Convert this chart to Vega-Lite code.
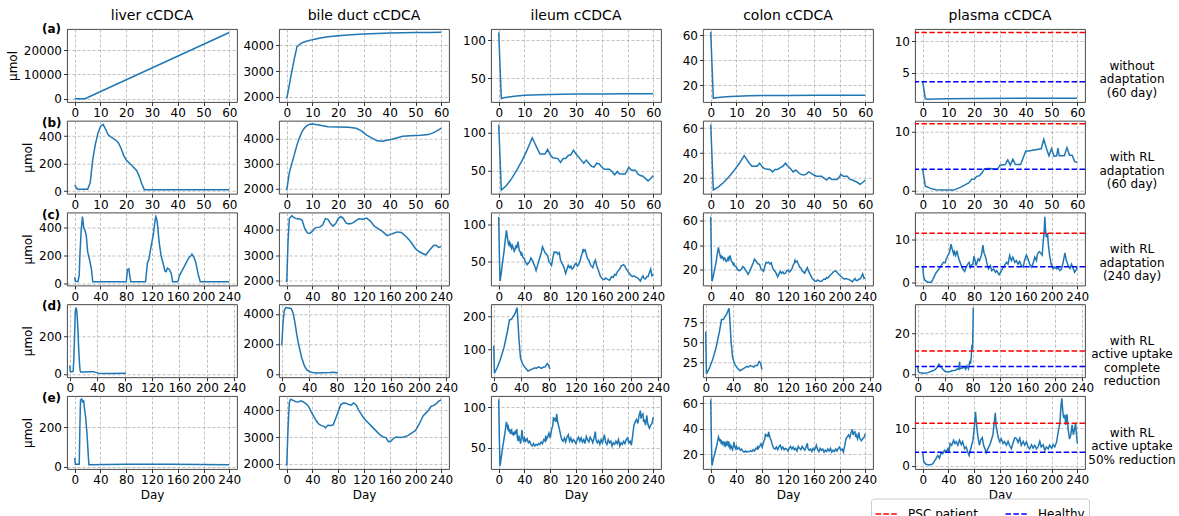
{
"$schema": "https://vega.github.io/schema/vega-lite/v6.json",
"background": "white",
"padding": {"left": 5, "top": 8, "right": 5, "bottom": 5},
"title": {"text":"(a)","anchor":"start","frame":"group","fontSize":12,"fontWeight":"bold","dx":-25,"dy":33,"offset":0,"baseline":"middle"},
"config": {
  "font": "DejaVu Sans",
  "numberFormat": "d",
  "view": {"stroke": "#333333", "strokeWidth": 0.9},
  "axis": {"labelFont": "DejaVu Sans", "labelFontSize": 12, "labelColor": "#000", "labelPadding": 2, "labelFlush": false, "labelOverlap": false, "tickColor": "#000", "tickSize": 3.5, "tickWidth": 0.8, "domain": false, "grid": true, "gridColor": "#b0b0b0", "gridWidth": 0.8, "gridDash": [3, 2], "titleFont": "DejaVu Sans", "titleFontSize": 12, "titleFontWeight": "normal", "titleColor": "#000", "titlePadding": 4},
  "title": {"font": "DejaVu Sans", "fontSize": 14, "fontWeight": "normal", "color": "#000", "offset": 6},
  "line": {"color": "#1f77b4", "strokeWidth": 1.5},
  "legend": {"title": null, "orient": "none", "legendX": 804, "legendY": 469.5, "direction": "horizontal", "symbolType": "stroke", "symbolSize": 484, "symbolStrokeWidth": 1.5, "symbolDash": [5.5, 2.4], "labelFontSize": 12, "labelFont": "DejaVu Sans", "labelColor": "#000", "labelOffset": 9.6, "columnPadding": 24, "padding": 3.5, "strokeColor": "#cccccc", "fillColor": "white", "cornerRadius": 3}
},
"datasets": {
  "ref": [{"kind": "PSC patient", "umol": 11.35}, {"kind": "Healthy", "umol": 3.6}],
  "a_liver": [{"day":0,"umol":50},{"day":1,"umol":15},{"day":4,"umol":15},{"day":5,"umol":470},{"day":60,"umol":27200}],
  "a_bile": [{"day":0,"umol":1923},{"day":1,"umol":2450},{"day":2,"umol":3000},{"day":3,"umol":3500},{"day":4,"umol":3950},{"day":5,"umol":4040},{"day":6,"umol":4100},{"day":8,"umol":4170},{"day":10,"umol":4220},{"day":13,"umol":4280},{"day":16,"umol":4330},{"day":20,"umol":4370},{"day":25,"umol":4410},{"day":30,"umol":4440},{"day":35,"umol":4460},{"day":40,"umol":4475},{"day":45,"umol":4488},{"day":50,"umol":4496},{"day":55,"umol":4501},{"day":60,"umol":4505}],
  "a_ileum": [{"day":0,"umol":110},{"day":1,"umol":23.5},{"day":2,"umol":24.5},{"day":4,"umol":25.6},{"day":6,"umol":26.5},{"day":8,"umol":27.2},{"day":10,"umol":27.7},{"day":13,"umol":28.2},{"day":16,"umol":28.6},{"day":20,"umol":28.9},{"day":25,"umol":29.2},{"day":30,"umol":29.4},{"day":40,"umol":29.6},{"day":50,"umol":29.7},{"day":60,"umol":29.7}],
  "a_colon": [{"day":0,"umol":62.5},{"day":1,"umol":9.6},{"day":2,"umol":10},{"day":4,"umol":10.5},{"day":6,"umol":10.9},{"day":8,"umol":11.1},{"day":10,"umol":11.3},{"day":15,"umol":11.6},{"day":20,"umol":11.8},{"day":30,"umol":11.9},{"day":40,"umol":12},{"day":60,"umol":12.1}],
  "a_plasma": [{"day":0,"umol":3.6},{"day":1,"umol":0.9},{"day":2,"umol":0.85},{"day":5,"umol":0.88},{"day":10,"umol":0.92},{"day":20,"umol":0.95},{"day":40,"umol":0.98},{"day":60,"umol":1.0}],
  "b_liver": [{"day":0,"umol":45},{"day":1,"umol":12},{"day":5,"umol":12},{"day":6,"umol":60},{"day":7,"umol":230},{"day":8,"umol":340},{"day":9,"umol":420},{"day":10,"umol":470},{"day":11,"umol":485},{"day":12,"umol":450},{"day":13,"umol":410},{"day":14,"umol":395},{"day":16,"umol":370},{"day":17,"umol":350},{"day":18,"umol":310},{"day":19,"umol":260},{"day":20,"umol":225},{"day":22,"umol":190},{"day":24,"umol":150},{"day":25,"umol":110},{"day":26,"umol":55},{"day":27,"umol":10},{"day":60,"umol":10}],
  "b_bile": [{"day":0,"umol":1920},{"day":1,"umol":2620},{"day":2,"umol":3000},{"day":3,"umol":3370},{"day":4,"umol":3750},{"day":5,"umol":4040},{"day":6,"umol":4280},{"day":7,"umol":4430},{"day":8,"umol":4520},{"day":9,"umol":4565},{"day":10,"umol":4570},{"day":12,"umol":4540},{"day":14,"umol":4500},{"day":16,"umol":4460},{"day":20,"umol":4450},{"day":24,"umol":4440},{"day":27,"umol":4400},{"day":29,"umol":4300},{"day":31,"umol":4130},{"day":33,"umol":4020},{"day":35,"umol":3900},{"day":37,"umol":3880},{"day":39,"umol":3920},{"day":41,"umol":3960},{"day":43,"umol":4020},{"day":45,"umol":4080},{"day":48,"umol":4100},{"day":52,"umol":4120},{"day":55,"umol":4150},{"day":57,"umol":4230},{"day":59,"umol":4340},{"day":60,"umol":4410}],
  "b_ileum": [{"day":0,"umol":110},{"day":1,"umol":25},{"day":3,"umol":31},{"day":5,"umol":40},{"day":7,"umol":51},{"day":9,"umol":63},{"day":11,"umol":77},{"day":13,"umol":93},{"day":14,"umol":86},{"day":15,"umol":79},{"day":16,"umol":72},{"day":18,"umol":72},{"day":19,"umol":78},{"day":20,"umol":71},{"day":21,"umol":67},{"day":23,"umol":66},{"day":24,"umol":61},{"day":25,"umol":66},{"day":26,"umol":66},{"day":27,"umol":70},{"day":28,"umol":71},{"day":29,"umol":77},{"day":30,"umol":72},{"day":31,"umol":68},{"day":32,"umol":64},{"day":33,"umol":60},{"day":34,"umol":64},{"day":35,"umol":60},{"day":36,"umol":56},{"day":37,"umol":55},{"day":38,"umol":60},{"day":39,"umol":59},{"day":40,"umol":55},{"day":41,"umol":52},{"day":43,"umol":52},{"day":44,"umol":49},{"day":45,"umol":45},{"day":46,"umol":49},{"day":47,"umol":46},{"day":49,"umol":46},{"day":50,"umol":51},{"day":50.5,"umol":55},{"day":51.5,"umol":51},{"day":53,"umol":51},{"day":54,"umol":46},{"day":55,"umol":44},{"day":56,"umol":43},{"day":57,"umol":40},{"day":58,"umol":37},{"day":59,"umol":40},{"day":60,"umol":44}],
  "b_colon": [{"day":0,"umol":63},{"day":1,"umol":10.5},{"day":3,"umol":13},{"day":5,"umol":16.5},{"day":7,"umol":21},{"day":9,"umol":26},{"day":11,"umol":31.5},{"day":13,"umol":38},{"day":14,"umol":35},{"day":15,"umol":32},{"day":16,"umol":29.5},{"day":18,"umol":29.5},{"day":19,"umol":32},{"day":20,"umol":29},{"day":21,"umol":27.5},{"day":23,"umol":27},{"day":24,"umol":25},{"day":25,"umol":27},{"day":26,"umol":27},{"day":27,"umol":28.5},{"day":28,"umol":29.5},{"day":29,"umol":32},{"day":30,"umol":29.5},{"day":31,"umol":27.5},{"day":32,"umol":25},{"day":33,"umol":26.5},{"day":34,"umol":24.5},{"day":35,"umol":23},{"day":36,"umol":22.5},{"day":37,"umol":23},{"day":38,"umol":25},{"day":39,"umol":24},{"day":40,"umol":22.5},{"day":41,"umol":21.5},{"day":43,"umol":21.5},{"day":44,"umol":20},{"day":45,"umol":18.5},{"day":46,"umol":20.5},{"day":47,"umol":19},{"day":49,"umol":19},{"day":50,"umol":21},{"day":50.5,"umol":23},{"day":51.5,"umol":21.5},{"day":53,"umol":21.5},{"day":54,"umol":19},{"day":55,"umol":18.5},{"day":56,"umol":17.5},{"day":57,"umol":16.5},{"day":58,"umol":15},{"day":59,"umol":16.5},{"day":60,"umol":18.5}],
  "b_plasma": [{"day":0,"umol":3.6},{"day":1,"umol":0.7},{"day":2,"umol":0.55},{"day":3,"umol":0.35},{"day":5,"umol":0.1},{"day":8,"umol":0.05},{"day":12,"umol":0.05},{"day":15,"umol":0.6},{"day":18,"umol":1.3},{"day":19,"umol":1.9},{"day":20,"umol":1.9},{"day":21,"umol":2.4},{"day":22,"umol":2.5},{"day":23,"umol":3.0},{"day":24,"umol":3.7},{"day":26,"umol":3.75},{"day":29,"umol":3.6},{"day":30,"umol":4.3},{"day":32,"umol":4.4},{"day":33,"umol":5.2},{"day":34,"umol":4.3},{"day":35,"umol":5.3},{"day":36,"umol":4.4},{"day":38,"umol":4.4},{"day":40,"umol":6.7},{"day":41,"umol":6.7},{"day":46,"umol":7.1},{"day":47,"umol":8.7},{"day":48,"umol":7.2},{"day":49,"umol":5.9},{"day":50,"umol":7.1},{"day":51,"umol":5.8},{"day":52,"umol":5.9},{"day":52.5,"umol":7.2},{"day":53,"umol":5.9},{"day":55,"umol":5.9},{"day":56,"umol":7.3},{"day":57,"umol":6.0},{"day":58,"umol":6.0},{"day":59,"umol":4.9},{"day":60,"umol":4.8}],
  "c_liver": [{"day":0,"umol":45},{"day":1,"umol":15},{"day":5,"umol":12},{"day":7,"umol":60},{"day":8,"umol":200},{"day":10,"umol":380},{"day":12,"umol":480},{"day":14,"umol":400},{"day":16,"umol":380},{"day":18,"umol":340},{"day":20,"umol":230},{"day":23,"umol":170},{"day":26,"umol":100},{"day":28,"umol":12},{"day":80,"umol":12},{"day":82,"umol":100},{"day":84,"umol":105},{"day":86,"umol":40},{"day":87,"umol":12},{"day":110,"umol":12},{"day":113,"umol":150},{"day":115,"umol":170},{"day":118,"umol":250},{"day":122,"umol":350},{"day":125,"umol":460},{"day":126,"umol":480},{"day":128,"umol":450},{"day":131,"umol":300},{"day":134,"umol":200},{"day":137,"umol":150},{"day":140,"umol":90},{"day":142,"umol":85},{"day":144,"umol":110},{"day":147,"umol":100},{"day":150,"umol":70},{"day":152,"umol":12},{"day":160,"umol":12},{"day":163,"umol":60},{"day":170,"umol":120},{"day":175,"umol":165},{"day":178,"umol":190},{"day":180,"umol":195},{"day":182,"umol":210},{"day":185,"umol":190},{"day":188,"umol":150},{"day":192,"umol":60},{"day":195,"umol":12},{"day":240,"umol":12}],
  "c_bile": [{"day":0,"umol":1920},{"day":2,"umol":3500},{"day":4,"umol":4450},{"day":8,"umol":4560},{"day":12,"umol":4480},{"day":16,"umol":4440},{"day":20,"umol":4440},{"day":24,"umol":4380},{"day":28,"umol":4050},{"day":32,"umol":3880},{"day":36,"umol":3860},{"day":40,"umol":3950},{"day":44,"umol":4080},{"day":48,"umol":4100},{"day":52,"umol":4120},{"day":56,"umol":4200},{"day":60,"umol":4450},{"day":64,"umol":4420},{"day":68,"umol":4250},{"day":72,"umol":4150},{"day":76,"umol":4250},{"day":80,"umol":4450},{"day":84,"umol":4530},{"day":88,"umol":4450},{"day":92,"umol":4280},{"day":96,"umol":4240},{"day":100,"umol":4250},{"day":104,"umol":4300},{"day":108,"umol":4380},{"day":112,"umol":4440},{"day":118,"umol":4420},{"day":124,"umol":4470},{"day":130,"umol":4350},{"day":136,"umol":4150},{"day":142,"umol":4050},{"day":148,"umol":3950},{"day":156,"umol":3770},{"day":164,"umol":3850},{"day":172,"umol":3920},{"day":178,"umol":3900},{"day":186,"umol":3720},{"day":192,"umol":3550},{"day":196,"umol":3400},{"day":200,"umol":3250},{"day":206,"umol":3130},{"day":212,"umol":3050},{"day":216,"umol":3000},{"day":222,"umol":3200},{"day":228,"umol":3380},{"day":232,"umol":3390},{"day":236,"umol":3300},{"day":240,"umol":3340}],
  "c_ileum": [{"day":0,"umol":110},{"day":1,"umol":60},{"day":2,"umol":24},{"day":4,"umol":35},{"day":6,"umol":50},{"day":8,"umol":62},{"day":10,"umol":78},{"day":12,"umol":92},{"day":13,"umol":85},{"day":14,"umol":80},{"day":15,"umol":74},{"day":16,"umol":72},{"day":17,"umol":76},{"day":18,"umol":74},{"day":19,"umol":70},{"day":20,"umol":68},{"day":21,"umol":72},{"day":22,"umol":70},{"day":24,"umol":64},{"day":25,"umol":66},{"day":27,"umol":72},{"day":28,"umol":68},{"day":30,"umol":77},{"day":31,"umol":70},{"day":32,"umol":65},{"day":34,"umol":62},{"day":35,"umol":58},{"day":36,"umol":61},{"day":38,"umol":55},{"day":40,"umol":54},{"day":41,"umol":50},{"day":43,"umol":48},{"day":44,"umol":46},{"day":46,"umol":48},{"day":48,"umol":50},{"day":50,"umol":55},{"day":52,"umol":52},{"day":54,"umol":48},{"day":56,"umol":44},{"day":58,"umol":38},{"day":60,"umol":44},{"day":62,"umol":50},{"day":64,"umol":56},{"day":66,"umol":62},{"day":68,"umol":70},{"day":70,"umol":66},{"day":72,"umol":62},{"day":74,"umol":60},{"day":76,"umol":58},{"day":78,"umol":50},{"day":80,"umol":48},{"day":82,"umol":45},{"day":84,"umol":55},{"day":86,"umol":63},{"day":88,"umol":62},{"day":90,"umol":63},{"day":92,"umol":60},{"day":94,"umol":62},{"day":96,"umol":52},{"day":98,"umol":48},{"day":100,"umol":45},{"day":102,"umol":40},{"day":104,"umol":34},{"day":106,"umol":40},{"day":108,"umol":45},{"day":110,"umol":42},{"day":112,"umol":44},{"day":114,"umol":40},{"day":116,"umol":42},{"day":118,"umol":46},{"day":120,"umol":48},{"day":122,"umol":44},{"day":124,"umol":46},{"day":126,"umol":50},{"day":128,"umol":57},{"day":130,"umol":62},{"day":131,"umol":67},{"day":132,"umol":64},{"day":134,"umol":66},{"day":136,"umol":60},{"day":137,"umol":57},{"day":138,"umol":54},{"day":140,"umol":52},{"day":142,"umol":47},{"day":143,"umol":45},{"day":145,"umol":43},{"day":146,"umol":42},{"day":148,"umol":48},{"day":150,"umol":52},{"day":152,"umol":45},{"day":154,"umol":40},{"day":156,"umol":35},{"day":158,"umol":30},{"day":160,"umol":28},{"day":162,"umol":26},{"day":164,"umol":26},{"day":166,"umol":28},{"day":168,"umol":27},{"day":170,"umol":26},{"day":172,"umol":25},{"day":174,"umol":28},{"day":176,"umol":30},{"day":178,"umol":29},{"day":180,"umol":33},{"day":182,"umol":32},{"day":184,"umol":36},{"day":186,"umol":38},{"day":188,"umol":40},{"day":190,"umol":44},{"day":192,"umol":45},{"day":194,"umol":46},{"day":196,"umol":44},{"day":198,"umol":40},{"day":200,"umol":38},{"day":202,"umol":35},{"day":204,"umol":33},{"day":206,"umol":31},{"day":208,"umol":30},{"day":210,"umol":31},{"day":212,"umol":30},{"day":214,"umol":29},{"day":216,"umol":28},{"day":218,"umol":26},{"day":220,"umol":24},{"day":222,"umol":28},{"day":224,"umol":31},{"day":226,"umol":27},{"day":228,"umol":27},{"day":230,"umol":30},{"day":232,"umol":30},{"day":234,"umol":35},{"day":236,"umol":40},{"day":238,"umol":31},{"day":240,"umol":33}],
  "c_colon": [{"day":0,"umol":63},{"day":1,"umol":30},{"day":2,"umol":10.5},{"day":4,"umol":14.5},{"day":6,"umol":20},{"day":8,"umol":25},{"day":10,"umol":32},{"day":12,"umol":38},{"day":13,"umol":35},{"day":14,"umol":33},{"day":15,"umol":30.5},{"day":16,"umol":29.5},{"day":17,"umol":31},{"day":18,"umol":30.5},{"day":19,"umol":29},{"day":20,"umol":28},{"day":21,"umol":29.5},{"day":22,"umol":29},{"day":24,"umol":26.5},{"day":25,"umol":27},{"day":27,"umol":29.5},{"day":28,"umol":28},{"day":30,"umol":31.5},{"day":31,"umol":29},{"day":32,"umol":27},{"day":34,"umol":25.5},{"day":35,"umol":24},{"day":36,"umol":25},{"day":38,"umol":22.5},{"day":40,"umol":22},{"day":41,"umol":20.5},{"day":43,"umol":19.5},{"day":44,"umol":19},{"day":46,"umol":19.5},{"day":48,"umol":20.5},{"day":50,"umol":22.5},{"day":52,"umol":21.5},{"day":54,"umol":19.5},{"day":56,"umol":18},{"day":58,"umol":16},{"day":60,"umol":18},{"day":62,"umol":20.5},{"day":64,"umol":23},{"day":66,"umol":25.5},{"day":68,"umol":28.5},{"day":70,"umol":27},{"day":72,"umol":25.5},{"day":74,"umol":24.5},{"day":76,"umol":24},{"day":78,"umol":20.5},{"day":80,"umol":19.5},{"day":82,"umol":18.5},{"day":84,"umol":22.5},{"day":86,"umol":26},{"day":88,"umol":25.5},{"day":90,"umol":26},{"day":92,"umol":24.5},{"day":94,"umol":25.5},{"day":96,"umol":21.5},{"day":98,"umol":19.5},{"day":100,"umol":18.5},{"day":102,"umol":16.5},{"day":104,"umol":14},{"day":106,"umol":16.5},{"day":108,"umol":18.5},{"day":110,"umol":17},{"day":112,"umol":18},{"day":114,"umol":16.5},{"day":116,"umol":17},{"day":118,"umol":19},{"day":120,"umol":19.5},{"day":122,"umol":18},{"day":124,"umol":19},{"day":126,"umol":20.5},{"day":128,"umol":23.5},{"day":130,"umol":25.5},{"day":131,"umol":27.5},{"day":132,"umol":26},{"day":134,"umol":27},{"day":136,"umol":24.5},{"day":137,"umol":23.5},{"day":138,"umol":22},{"day":140,"umol":21.5},{"day":142,"umol":19},{"day":143,"umol":18.5},{"day":145,"umol":17.5},{"day":146,"umol":17},{"day":148,"umol":19.5},{"day":150,"umol":21.5},{"day":152,"umol":18.5},{"day":154,"umol":16.5},{"day":156,"umol":14.5},{"day":158,"umol":12.5},{"day":160,"umol":11.5},{"day":162,"umol":10.5},{"day":164,"umol":10.5},{"day":166,"umol":11.5},{"day":168,"umol":11},{"day":170,"umol":10.5},{"day":172,"umol":10.3},{"day":174,"umol":11.5},{"day":176,"umol":12.3},{"day":178,"umol":12},{"day":180,"umol":13.5},{"day":182,"umol":13},{"day":184,"umol":14.5},{"day":186,"umol":15.5},{"day":188,"umol":16.5},{"day":190,"umol":18},{"day":192,"umol":18.5},{"day":194,"umol":19},{"day":196,"umol":18},{"day":198,"umol":16.5},{"day":200,"umol":15.5},{"day":202,"umol":14.5},{"day":204,"umol":13.5},{"day":206,"umol":12.7},{"day":208,"umol":12.3},{"day":210,"umol":12.7},{"day":212,"umol":12.3},{"day":214,"umol":12},{"day":216,"umol":11.5},{"day":218,"umol":10.7},{"day":220,"umol":10},{"day":222,"umol":11.5},{"day":224,"umol":12.7},{"day":226,"umol":11},{"day":228,"umol":11},{"day":230,"umol":12.3},{"day":232,"umol":12.3},{"day":234,"umol":14.3},{"day":236,"umol":16.5},{"day":238,"umol":12.7},{"day":240,"umol":13.5}],
  "c_plasma": [{"day":0,"umol":3.6},{"day":1.5,"umol":1.2},{"day":3.6,"umol":0.4},{"day":8,"umol":0},{"day":13,"umol":0},{"day":15.6,"umol":0.6},{"day":20.8,"umol":2.2},{"day":26,"umol":3.2},{"day":28.6,"umol":3.85},{"day":32,"umol":4.6},{"day":35,"umol":4.5},{"day":36,"umol":5.2},{"day":39,"umol":6.2},{"day":41.5,"umol":6.9},{"day":44,"umol":8.85},{"day":45.7,"umol":7.7},{"day":48,"umol":6.5},{"day":49,"umol":7.1},{"day":51,"umol":6.2},{"day":53,"umol":7.3},{"day":55,"umol":6.0},{"day":57,"umol":5.0},{"day":60,"umol":3.85},{"day":62,"umol":3.1},{"day":65,"umol":2.5},{"day":67.5,"umol":3.5},{"day":70,"umol":4.2},{"day":72,"umol":4.6},{"day":74,"umol":3.5},{"day":75,"umol":3.85},{"day":78,"umol":4.2},{"day":79.5,"umol":6.0},{"day":81.5,"umol":5.0},{"day":83,"umol":3.85},{"day":86,"umol":5.4},{"day":88,"umol":5.0},{"day":91,"umol":6.2},{"day":93.5,"umol":8.6},{"day":95,"umol":6.9},{"day":97.7,"umol":5.8},{"day":100,"umol":4.2},{"day":102,"umol":3.1},{"day":105,"umol":3.85},{"day":107,"umol":2.7},{"day":110,"umol":3.1},{"day":113,"umol":2.3},{"day":115,"umol":2.7},{"day":118.5,"umol":1.7},{"day":121,"umol":2.3},{"day":123.6,"umol":3.1},{"day":127,"umol":3.85},{"day":130,"umol":4.6},{"day":132.5,"umol":4.2},{"day":135,"umol":6.2},{"day":137.7,"umol":5.0},{"day":140,"umol":5.8},{"day":143,"umol":4.6},{"day":145.5,"umol":5.0},{"day":148,"umol":4.2},{"day":150.6,"umol":4.8},{"day":153,"umol":3.85},{"day":156,"umol":3.5},{"day":158,"umol":5.0},{"day":161,"umol":6.3},{"day":163.6,"umol":5.4},{"day":166,"umol":4.2},{"day":169,"umol":3.5},{"day":171,"umol":4.2},{"day":174,"umol":5.8},{"day":176.6,"umol":5.0},{"day":178,"umol":6.5},{"day":181,"umol":7.1},{"day":183,"umol":6.8},{"day":185.5,"umol":6.3},{"day":187,"umol":9.2},{"day":188.6,"umol":11.5},{"day":189.6,"umol":15.2},{"day":190.6,"umol":12.3},{"day":192,"umol":10.4},{"day":193.8,"umol":11.4},{"day":195,"umol":8.9},{"day":197,"umol":6.2},{"day":199.5,"umol":4.2},{"day":202.6,"umol":3.1},{"day":205,"umol":3.5},{"day":208,"umol":3.1},{"day":210,"umol":3.5},{"day":213,"umol":2.7},{"day":215.6,"umol":3.1},{"day":218,"umol":4.6},{"day":220.8,"umol":6.8},{"day":223,"umol":5.0},{"day":226,"umol":3.85},{"day":228.6,"umol":3.2},{"day":231,"umol":4.2},{"day":233.8,"umol":3.1},{"day":236,"umol":2.3},{"day":239,"umol":3.1},{"day":240,"umol":3.5}],
  "d_liver": [{"day":0,"umol":45},{"day":1,"umol":12},{"day":4,"umol":12},{"day":5,"umol":15},{"day":6,"umol":80},{"day":7,"umol":200},{"day":8,"umol":330},{"day":9,"umol":355},{"day":10,"umol":345},{"day":11,"umol":300},{"day":12,"umol":230},{"day":13,"umol":140},{"day":14,"umol":70},{"day":15,"umol":20},{"day":16,"umol":10},{"day":20,"umol":10},{"day":30,"umol":12},{"day":35,"umol":12},{"day":38,"umol":8},{"day":42,"umol":4},{"day":50,"umol":2},{"day":60,"umol":2},{"day":82,"umol":3}],
  "d_bile": [{"day":0,"umol":1920},{"day":2,"umol":3500},{"day":4,"umol":4300},{"day":6,"umol":4430},{"day":10,"umol":4400},{"day":14,"umol":4350},{"day":17,"umol":4000},{"day":20,"umol":3200},{"day":22,"umol":2600},{"day":24,"umol":2100},{"day":26,"umol":1700},{"day":29,"umol":1100},{"day":33,"umol":550},{"day":36,"umol":300},{"day":40,"umol":160},{"day":45,"umol":90},{"day":50,"umol":70},{"day":60,"umol":80},{"day":70,"umol":90},{"day":75,"umol":110},{"day":78,"umol":90},{"day":82,"umol":60}],
  "d_ileum": [{"day":0,"umol":110},{"day":1,"umol":25},{"day":5,"umol":42},{"day":10,"umol":70},{"day":15,"umol":105},{"day":20,"umol":155},{"day":23,"umol":190},{"day":26,"umol":192},{"day":28,"umol":200},{"day":30,"umol":205},{"day":32,"umol":215},{"day":34,"umol":228},{"day":35,"umol":195},{"day":37,"umol":125},{"day":39,"umol":72},{"day":42,"umol":55},{"day":46,"umol":42},{"day":50,"umol":32},{"day":55,"umol":37},{"day":60,"umol":42},{"day":62,"umol":40},{"day":65,"umol":45},{"day":68,"umol":42},{"day":70,"umol":40},{"day":72,"umol":44},{"day":75,"umol":45},{"day":78,"umol":55},{"day":80,"umol":50},{"day":82,"umol":38}],
  "d_colon": [{"day":0,"umol":63},{"day":1,"umol":10.5},{"day":5,"umol":17},{"day":10,"umol":28},{"day":15,"umol":43},{"day":20,"umol":63},{"day":23,"umol":78},{"day":26,"umol":78},{"day":28,"umol":82},{"day":30,"umol":84},{"day":32,"umol":88},{"day":34,"umol":92},{"day":35,"umol":80},{"day":37,"umol":51},{"day":39,"umol":32},{"day":42,"umol":23},{"day":46,"umol":18},{"day":50,"umol":14.5},{"day":55,"umol":17},{"day":60,"umol":20},{"day":62,"umol":19},{"day":65,"umol":21},{"day":68,"umol":20},{"day":70,"umol":19},{"day":72,"umol":21},{"day":75,"umol":21},{"day":78,"umol":26},{"day":80,"umol":24},{"day":82,"umol":16}],
  "d_plasma": [{"day":0,"umol":3.6},{"day":1,"umol":1.0},{"day":3,"umol":0.5},{"day":10,"umol":0.3},{"day":15,"umol":0.6},{"day":20,"umol":1.3},{"day":25,"umol":2.0},{"day":28,"umol":3.0},{"day":31,"umol":4.8},{"day":33,"umol":3.8},{"day":36,"umol":2.5},{"day":40,"umol":1.2},{"day":45,"umol":0.9},{"day":50,"umol":1.5},{"day":55,"umol":1.8},{"day":58,"umol":2.5},{"day":60,"umol":2.2},{"day":61,"umol":6.0},{"day":62,"umol":2.5},{"day":66,"umol":3.0},{"day":68,"umol":3.5},{"day":70,"umol":2.3},{"day":72,"umol":4.0},{"day":74,"umol":2.5},{"day":76,"umol":6.5},{"day":77,"umol":5.0},{"day":78,"umol":8.0},{"day":79,"umol":14.5},{"day":80,"umol":12.0},{"day":81,"umol":33.0}],
  "e_liver": [{"day":0,"umol":45},{"day":1,"umol":12},{"day":7,"umol":12},{"day":8,"umol":200},{"day":9,"umol":340},{"day":11,"umol":345},{"day":12,"umol":330},{"day":14,"umol":335},{"day":15,"umol":300},{"day":17,"umol":250},{"day":19,"umol":170},{"day":21,"umol":60},{"day":22,"umol":10},{"day":80,"umol":12},{"day":150,"umol":12},{"day":240,"umol":10}],
  "e_bile": [{"day":0,"umol":1920},{"day":2,"umol":3300},{"day":4,"umol":4300},{"day":6,"umol":4420},{"day":10,"umol":4380},{"day":14,"umol":4330},{"day":18,"umol":4320},{"day":22,"umol":4360},{"day":26,"umol":4320},{"day":30,"umol":4250},{"day":34,"umol":4150},{"day":38,"umol":3950},{"day":42,"umol":3780},{"day":46,"umol":3600},{"day":50,"umol":3480},{"day":54,"umol":3430},{"day":58,"umol":3400},{"day":60,"umol":3340},{"day":64,"umol":3440},{"day":68,"umol":3430},{"day":72,"umol":3450},{"day":76,"umol":3700},{"day":80,"umol":3960},{"day":84,"umol":4220},{"day":88,"umol":4280},{"day":92,"umol":4270},{"day":96,"umol":4230},{"day":100,"umol":4200},{"day":104,"umol":4280},{"day":108,"umol":4200},{"day":112,"umol":4000},{"day":116,"umol":3850},{"day":120,"umol":3700},{"day":126,"umol":3550},{"day":132,"umol":3400},{"day":138,"umol":3250},{"day":144,"umol":3100},{"day":150,"umol":3000},{"day":154,"umol":2980},{"day":158,"umol":2820},{"day":162,"umol":2850},{"day":166,"umol":2950},{"day":170,"umol":3000},{"day":176,"umol":2980},{"day":182,"umol":3000},{"day":188,"umol":3050},{"day":194,"umol":3150},{"day":200,"umol":3250},{"day":206,"umol":3500},{"day":212,"umol":3800},{"day":216,"umol":3900},{"day":220,"umol":4000},{"day":224,"umol":4150},{"day":228,"umol":4180},{"day":232,"umol":4250},{"day":236,"umol":4350},{"day":240,"umol":4400}],
  "e_ileum": [{"day":0,"umol":110},{"day":1,"umol":60},{"day":2,"umol":27},{"day":4,"umol":38},{"day":6,"umol":50},{"day":8,"umol":60},{"day":10,"umol":70},{"day":11,"umol":76},{"day":12,"umol":82},{"day":13,"umol":78},{"day":14,"umol":74},{"day":15,"umol":76},{"day":16,"umol":70},{"day":17,"umol":73},{"day":18,"umol":67},{"day":19,"umol":71},{"day":20,"umol":72},{"day":21,"umol":66},{"day":22,"umol":69},{"day":23,"umol":65},{"day":24,"umol":70},{"day":25,"umol":66},{"day":26,"umol":71},{"day":27,"umol":67},{"day":28,"umol":73},{"day":29,"umol":62},{"day":30,"umol":58},{"day":31,"umol":65},{"day":32,"umol":62},{"day":33,"umol":58},{"day":34,"umol":55},{"day":35,"umol":62},{"day":36,"umol":72},{"day":37,"umol":64},{"day":38,"umol":60},{"day":39,"umol":57},{"day":40,"umol":62},{"day":42,"umol":58},{"day":44,"umol":61},{"day":46,"umol":56},{"day":48,"umol":58},{"day":50,"umol":54},{"day":52,"umol":52},{"day":54,"umol":55},{"day":56,"umol":52},{"day":58,"umol":54},{"day":60,"umol":53},{"day":62,"umol":55},{"day":64,"umol":54},{"day":66,"umol":57},{"day":68,"umol":55},{"day":70,"umol":60},{"day":72,"umol":58},{"day":73,"umol":65},{"day":74,"umol":60},{"day":76,"umol":63},{"day":78,"umol":68},{"day":80,"umol":62},{"day":82,"umol":72},{"day":84,"umol":78},{"day":85,"umol":88},{"day":86,"umol":84},{"day":88,"umol":86},{"day":89,"umol":82},{"day":90,"umol":92},{"day":91,"umol":85},{"day":92,"umol":80},{"day":94,"umol":74},{"day":95,"umol":70},{"day":96,"umol":66},{"day":98,"umol":60},{"day":100,"umol":58},{"day":102,"umol":62},{"day":104,"umol":57},{"day":106,"umol":63},{"day":108,"umol":66},{"day":110,"umol":58},{"day":112,"umol":62},{"day":114,"umol":57},{"day":116,"umol":60},{"day":118,"umol":58},{"day":120,"umol":55},{"day":122,"umol":60},{"day":124,"umol":63},{"day":126,"umol":58},{"day":128,"umol":62},{"day":130,"umol":57},{"day":132,"umol":60},{"day":134,"umol":55},{"day":136,"umol":64},{"day":138,"umol":60},{"day":140,"umol":57},{"day":142,"umol":63},{"day":144,"umol":60},{"day":146,"umol":56},{"day":148,"umol":62},{"day":150,"umol":70},{"day":151,"umol":60},{"day":153,"umol":56},{"day":155,"umol":59},{"day":157,"umol":54},{"day":159,"umol":60},{"day":161,"umol":56},{"day":163,"umol":62},{"day":164,"umol":66},{"day":166,"umol":57},{"day":168,"umol":54},{"day":170,"umol":60},{"day":172,"umol":56},{"day":174,"umol":58},{"day":176,"umol":52},{"day":178,"umol":56},{"day":180,"umol":54},{"day":182,"umol":58},{"day":184,"umol":55},{"day":186,"umol":60},{"day":188,"umol":52},{"day":190,"umol":56},{"day":192,"umol":54},{"day":194,"umol":58},{"day":196,"umol":55},{"day":198,"umol":60},{"day":200,"umol":62},{"day":202,"umol":56},{"day":204,"umol":58},{"day":206,"umol":53},{"day":208,"umol":65},{"day":210,"umol":78},{"day":212,"umol":82},{"day":214,"umol":85},{"day":216,"umol":80},{"day":218,"umol":90},{"day":220,"umol":96},{"day":221,"umol":86},{"day":222,"umol":90},{"day":224,"umol":92},{"day":225,"umol":82},{"day":226,"umol":85},{"day":228,"umol":78},{"day":230,"umol":90},{"day":231,"umol":82},{"day":232,"umol":78},{"day":234,"umol":74},{"day":236,"umol":78},{"day":238,"umol":80},{"day":240,"umol":88}],
  "e_colon": [{"day":0,"umol":63},{"day":1,"umol":30},{"day":2,"umol":11},{"day":4,"umol":16},{"day":6,"umol":20},{"day":8,"umol":24},{"day":10,"umol":28},{"day":11,"umol":31},{"day":12,"umol":33.5},{"day":13,"umol":32},{"day":14,"umol":30.5},{"day":15,"umol":31},{"day":16,"umol":29},{"day":17,"umol":30},{"day":18,"umol":28},{"day":19,"umol":29.5},{"day":20,"umol":29.5},{"day":21,"umol":27},{"day":22,"umol":28.5},{"day":23,"umol":27},{"day":24,"umol":29},{"day":25,"umol":27.5},{"day":26,"umol":29},{"day":27,"umol":27.5},{"day":28,"umol":30},{"day":29,"umol":25.5},{"day":30,"umol":24.5},{"day":31,"umol":27},{"day":32,"umol":26},{"day":33,"umol":24.5},{"day":34,"umol":23.5},{"day":35,"umol":26},{"day":36,"umol":29.5},{"day":37,"umol":26.5},{"day":38,"umol":25},{"day":39,"umol":24},{"day":40,"umol":26},{"day":42,"umol":24},{"day":44,"umol":25},{"day":46,"umol":23},{"day":48,"umol":24},{"day":50,"umol":22},{"day":52,"umol":21.5},{"day":54,"umol":22.5},{"day":56,"umol":21.5},{"day":58,"umol":22},{"day":60,"umol":22},{"day":62,"umol":22.5},{"day":64,"umol":22},{"day":66,"umol":23.5},{"day":68,"umol":22.5},{"day":70,"umol":24.5},{"day":72,"umol":24},{"day":73,"umol":26.5},{"day":74,"umol":24.5},{"day":76,"umol":26},{"day":78,"umol":28},{"day":80,"umol":25.5},{"day":82,"umol":29.5},{"day":84,"umol":32},{"day":85,"umol":36},{"day":86,"umol":34.5},{"day":88,"umol":35},{"day":89,"umol":33.5},{"day":90,"umol":37.5},{"day":91,"umol":35},{"day":92,"umol":33},{"day":94,"umol":30.5},{"day":95,"umol":28.5},{"day":96,"umol":27},{"day":98,"umol":24.5},{"day":100,"umol":24},{"day":102,"umol":25.5},{"day":104,"umol":23.5},{"day":106,"umol":26},{"day":108,"umol":27},{"day":110,"umol":24},{"day":112,"umol":25.5},{"day":114,"umol":23.5},{"day":116,"umol":24.5},{"day":118,"umol":24},{"day":120,"umol":22.5},{"day":122,"umol":24.5},{"day":124,"umol":26},{"day":126,"umol":24},{"day":128,"umol":25.5},{"day":130,"umol":23.5},{"day":132,"umol":24.5},{"day":134,"umol":22.5},{"day":136,"umol":26},{"day":138,"umol":24.5},{"day":140,"umol":23.5},{"day":142,"umol":26},{"day":144,"umol":24.5},{"day":146,"umol":23},{"day":148,"umol":25.5},{"day":150,"umol":28.5},{"day":151,"umol":24.5},{"day":153,"umol":23},{"day":155,"umol":24},{"day":157,"umol":22},{"day":159,"umol":24.5},{"day":161,"umol":23},{"day":163,"umol":25.5},{"day":164,"umol":27},{"day":166,"umol":23.5},{"day":168,"umol":22},{"day":170,"umol":24.5},{"day":172,"umol":23},{"day":174,"umol":24},{"day":176,"umol":21.5},{"day":178,"umol":23},{"day":180,"umol":22},{"day":182,"umol":24},{"day":184,"umol":22.5},{"day":186,"umol":24.5},{"day":188,"umol":21.5},{"day":190,"umol":23},{"day":192,"umol":22},{"day":194,"umol":24},{"day":196,"umol":22.5},{"day":198,"umol":24.5},{"day":200,"umol":25.5},{"day":202,"umol":23},{"day":204,"umol":24},{"day":206,"umol":21.5},{"day":208,"umol":26.5},{"day":210,"umol":32},{"day":212,"umol":33.5},{"day":214,"umol":35},{"day":216,"umol":33},{"day":218,"umol":37},{"day":220,"umol":39.5},{"day":221,"umol":35},{"day":222,"umol":37},{"day":224,"umol":37.5},{"day":225,"umol":33.5},{"day":226,"umol":35},{"day":228,"umol":32},{"day":230,"umol":37},{"day":231,"umol":33.5},{"day":232,"umol":32},{"day":234,"umol":30.5},{"day":236,"umol":32},{"day":238,"umol":33},{"day":240,"umol":36}],
  "e_plasma": [{"day":0,"umol":3.6},{"day":1.5,"umol":1.1},{"day":5,"umol":0.36},{"day":10,"umol":0.2},{"day":15.6,"umol":0.45},{"day":19.7,"umol":1.6},{"day":23.4,"umol":2.7},{"day":26,"umol":2.0},{"day":28.6,"umol":3.45},{"day":31,"umol":3.2},{"day":34,"umol":4.1},{"day":36,"umol":3.6},{"day":39,"umol":4.5},{"day":40.5,"umol":3.45},{"day":42.6,"umol":5.9},{"day":45,"umol":5.45},{"day":48,"umol":6.8},{"day":50,"umol":5.9},{"day":52,"umol":6.4},{"day":54.5,"umol":5.45},{"day":57,"umol":6.8},{"day":60,"umol":5.6},{"day":62,"umol":6.4},{"day":65,"umol":4.5},{"day":67.5,"umol":5.0},{"day":70,"umol":3.6},{"day":72,"umol":2.7},{"day":74,"umol":4.1},{"day":76,"umol":5.45},{"day":78,"umol":6.8},{"day":80,"umol":10.0},{"day":82,"umol":14.4},{"day":83.6,"umol":10.9},{"day":85.7,"umol":7.7},{"day":88,"umol":5.45},{"day":90,"umol":6.8},{"day":92.5,"umol":7.45},{"day":94.5,"umol":5.45},{"day":96.6,"umol":4.5},{"day":98.7,"umol":3.45},{"day":101,"umol":4.5},{"day":104,"umol":5.45},{"day":106.5,"umol":6.8},{"day":109,"umol":8.2},{"day":111,"umol":11.4},{"day":112.7,"umol":14.1},{"day":114,"umol":10.5},{"day":117,"umol":7.7},{"day":119.5,"umol":6.4},{"day":122,"umol":7.1},{"day":124.7,"umol":5.9},{"day":127,"umol":6.4},{"day":130,"umol":5.45},{"day":132.5,"umol":6.5},{"day":135,"umol":5.3},{"day":137.7,"umol":4.5},{"day":140,"umol":5.9},{"day":143,"umol":7.45},{"day":145.5,"umol":7.3},{"day":148,"umol":6.2},{"day":150.6,"umol":7.3},{"day":153,"umol":5.45},{"day":156,"umol":6.5},{"day":158.4,"umol":5.45},{"day":161,"umol":6.4},{"day":163.6,"umol":5.0},{"day":166,"umol":4.5},{"day":169,"umol":5.6},{"day":171.4,"umol":4.7},{"day":174,"umol":5.45},{"day":176.6,"umol":4.5},{"day":179,"umol":5.0},{"day":181.8,"umol":6.5},{"day":184,"umol":5.0},{"day":187,"umol":5.6},{"day":189.6,"umol":4.1},{"day":192,"umol":5.0},{"day":195,"umol":4.5},{"day":197,"umol":5.45},{"day":200,"umol":4.7},{"day":202.6,"umol":5.6},{"day":205,"umol":5.0},{"day":208,"umol":6.4},{"day":210,"umol":8.6},{"day":213,"umol":11.4},{"day":214.5,"umol":15.5},{"day":216,"umol":18.0},{"day":217.7,"umol":14.1},{"day":219,"umol":12.7},{"day":220.8,"umol":13.6},{"day":222,"umol":10.9},{"day":224,"umol":13.8},{"day":226,"umol":9.5},{"day":228,"umol":7.1},{"day":230,"umol":8.2},{"day":232,"umol":10.9},{"day":234,"umol":8.2},{"day":236,"umol":10.0},{"day":237.4,"umol":11.4},{"day":239,"umol":7.7},{"day":240,"umol":5.9}]
},
"columns": 6,
"spacing": {"row": 18.75, "column": 42},
"bounds": "flush",
"align": "each",
"concat": [
   {"width":170,"height":73,"title":"liver cCDCA","data":{"name":"a_liver"},"mark":"line","encoding":{"x":{"field":"day","type":"quantitative","scale":{"domain":[-3,63],"nice":false,"zero":false},"axis":{"values":[0,10,20,30,40,50,60],"title":null}},"y":{"field":"umol","type":"quantitative","scale":{"domain":[-1360,28630],"nice":false,"zero":false},"axis":{"values":[0,10000,20000],"title":"µmol"}}}},
   {"width":170,"height":73,"title":"bile duct cCDCA","data":{"name":"a_bile"},"mark":"line","encoding":{"x":{"field":"day","type":"quantitative","scale":{"domain":[-3,63],"nice":false,"zero":false},"axis":{"values":[0,10,20,30,40,50,60],"title":null}},"y":{"field":"umol","type":"quantitative","scale":{"domain":[1794,4634],"nice":false,"zero":false},"axis":{"values":[2000,3000,4000],"title":null}}}},
   {"width":170,"height":73,"title":"ileum cCDCA","data":{"name":"a_ileum"},"mark":"line","encoding":{"x":{"field":"day","type":"quantitative","scale":{"domain":[-3,63],"nice":false,"zero":false},"axis":{"values":[0,10,20,30,40,50,60],"title":null}},"y":{"field":"umol","type":"quantitative","scale":{"domain":[19,114.4],"nice":false,"zero":false},"axis":{"values":[50,100],"title":null}}}},
   {"width":170,"height":73,"title":"colon cCDCA","data":{"name":"a_colon"},"mark":"line","encoding":{"x":{"field":"day","type":"quantitative","scale":{"domain":[-3,63],"nice":false,"zero":false},"axis":{"values":[0,10,20,30,40,50,60],"title":null}},"y":{"field":"umol","type":"quantitative","scale":{"domain":[6.7,64.8],"nice":false,"zero":false},"axis":{"values":[20,40,60],"title":null}}}},
   {"width":170,"height":73,"title":"plasma cCDCA","layer":[
     {"data":{"name":"a_plasma"},"mark":"line","encoding":{"x":{"field":"day","type":"quantitative","scale":{"domain":[-3,63],"nice":false,"zero":false},"axis":{"values":[0,10,20,30,40,50,60],"title":null}},"y":{"field":"umol","type":"quantitative","scale":{"domain":[0.4,11.9],"nice":false,"zero":false},"axis":{"values":[5,10],"title":null}}}},
     {"data":{"name":"ref"},"mark":{"type":"rule","strokeDash":[5.5,2.4],"strokeWidth":1.5},"encoding":{"y":{"field":"umol","type":"quantitative"},"color":{"field":"kind","type":"nominal","scale":{"domain":["PSC patient","Healthy"],"range":["#ff0000","#0000ff"]}}}}
   ]},
   {"width":10,"height":73,"view":{"stroke":null},"data":{"values":[{"t":"without\nadaptation\n(60 day)"}]},"mark":{"type":"text","lineBreak":"\n","fontSize":12,"lineHeight":13.5,"align":"center","baseline":"middle","font":"DejaVu Sans","color":"#000"},"encoding":{"text":{"field":"t","type":"nominal"}}},

   {"width":170,"height":73,"title":{"text":"(b)","anchor":"start","frame":"group","fontSize":12,"fontWeight":"bold","dx":-25,"dy":14,"offset":0,"baseline":"middle"},"data":{"name":"b_liver"},"mark":"line","encoding":{"x":{"field":"day","type":"quantitative","scale":{"domain":[-3,63],"nice":false,"zero":false},"axis":{"values":[0,10,20,30,40,50,60],"title":null}},"y":{"field":"umol","type":"quantitative","scale":{"domain":[-20,512],"nice":false,"zero":false},"axis":{"values":[0,200,400],"title":"µmol"}}}},
   {"width":170,"height":73,"data":{"name":"b_bile"},"mark":"line","encoding":{"x":{"field":"day","type":"quantitative","scale":{"domain":[-3,63],"nice":false,"zero":false},"axis":{"values":[0,10,20,30,40,50,60],"title":null}},"y":{"field":"umol","type":"quantitative","scale":{"domain":[1788,4702],"nice":false,"zero":false},"axis":{"values":[2000,3000,4000],"title":null}}}},
   {"width":170,"height":73,"data":{"name":"b_ileum"},"mark":"line","encoding":{"x":{"field":"day","type":"quantitative","scale":{"domain":[-3,63],"nice":false,"zero":false},"axis":{"values":[0,10,20,30,40,50,60],"title":null}},"y":{"field":"umol","type":"quantitative","scale":{"domain":[20.3,115.2],"nice":false,"zero":false},"axis":{"values":[50,100],"title":null}}}},
   {"width":170,"height":73,"data":{"name":"b_colon"},"mark":"line","encoding":{"x":{"field":"day","type":"quantitative","scale":{"domain":[-3,63],"nice":false,"zero":false},"axis":{"values":[0,10,20,30,40,50,60],"title":null}},"y":{"field":"umol","type":"quantitative","scale":{"domain":[7.5,66],"nice":false,"zero":false},"axis":{"values":[20,40,60],"title":null}}}},
   {"width":170,"height":73,"layer":[
     {"data":{"name":"b_plasma"},"mark":"line","encoding":{"x":{"field":"day","type":"quantitative","scale":{"domain":[-3,63],"nice":false,"zero":false},"axis":{"values":[0,10,20,30,40,50,60],"title":null}},"y":{"field":"umol","type":"quantitative","scale":{"domain":[-0.57,11.87],"nice":false,"zero":false},"axis":{"values":[0,5,10],"title":null}}}},
     {"data":{"name":"ref"},"mark":{"type":"rule","strokeDash":[5.5,2.4],"strokeWidth":1.5},"encoding":{"y":{"field":"umol","type":"quantitative"},"color":{"field":"kind","type":"nominal","scale":{"domain":["PSC patient","Healthy"],"range":["#ff0000","#0000ff"]}}}}
   ]},
   {"width":10,"height":73,"view":{"stroke":null},"data":{"values":[{"t":"with RL\nadaptation\n(60 day)"}]},"mark":{"type":"text","lineBreak":"\n","fontSize":12,"lineHeight":13.5,"align":"center","baseline":"middle","font":"DejaVu Sans","color":"#000"},"encoding":{"text":{"field":"t","type":"nominal"}}},

   {"width":170,"height":73,"title":{"text":"(c)","anchor":"start","frame":"group","fontSize":12,"fontWeight":"bold","dx":-25,"dy":14,"offset":0,"baseline":"middle"},"data":{"name":"c_liver"},"mark":"line","encoding":{"x":{"field":"day","type":"quantitative","scale":{"domain":[-12,252],"nice":false,"zero":false},"axis":{"values":[0,40,80,120,160,200,240],"title":null}},"y":{"field":"umol","type":"quantitative","scale":{"domain":[-15,510],"nice":false,"zero":false},"axis":{"values":[0,200,400],"title":"µmol"}}}},
   {"width":170,"height":73,"data":{"name":"c_bile"},"mark":"line","encoding":{"x":{"field":"day","type":"quantitative","scale":{"domain":[-12,252],"nice":false,"zero":false},"axis":{"values":[0,40,80,120,160,200,240],"title":null}},"y":{"field":"umol","type":"quantitative","scale":{"domain":[1788,4692],"nice":false,"zero":false},"axis":{"values":[2000,3000,4000],"title":null}}}},
   {"width":170,"height":73,"data":{"name":"c_ileum"},"mark":"line","encoding":{"x":{"field":"day","type":"quantitative","scale":{"domain":[-12,252],"nice":false,"zero":false},"axis":{"values":[0,40,80,120,160,200,240],"title":null}},"y":{"field":"umol","type":"quantitative","scale":{"domain":[18,116],"nice":false,"zero":false},"axis":{"values":[50,100],"title":null}}}},
   {"width":170,"height":73,"data":{"name":"c_colon"},"mark":"line","encoding":{"x":{"field":"day","type":"quantitative","scale":{"domain":[-12,252],"nice":false,"zero":false},"axis":{"values":[0,40,80,120,160,200,240],"title":null}},"y":{"field":"umol","type":"quantitative","scale":{"domain":[7,66.5],"nice":false,"zero":false},"axis":{"values":[20,40,60],"title":null}}}},
   {"width":170,"height":73,"layer":[
     {"data":{"name":"c_plasma"},"mark":"line","encoding":{"x":{"field":"day","type":"quantitative","scale":{"domain":[-12,252],"nice":false,"zero":false},"axis":{"values":[0,40,80,120,160,200,240],"title":null}},"y":{"field":"umol","type":"quantitative","scale":{"domain":[-0.77,16.17],"nice":false,"zero":false},"axis":{"values":[0,10],"title":null}}}},
     {"data":{"name":"ref"},"mark":{"type":"rule","strokeDash":[5.5,2.4],"strokeWidth":1.5},"encoding":{"y":{"field":"umol","type":"quantitative"},"color":{"field":"kind","type":"nominal","scale":{"domain":["PSC patient","Healthy"],"range":["#ff0000","#0000ff"]}}}}
   ]},
   {"width":10,"height":73,"view":{"stroke":null},"data":{"values":[{"t":"with RL\nadaptation\n(240 day)"}]},"mark":{"type":"text","lineBreak":"\n","fontSize":12,"lineHeight":13.5,"align":"center","baseline":"middle","font":"DejaVu Sans","color":"#000"},"encoding":{"text":{"field":"t","type":"nominal"}}},

   {"width":170,"height":73,"title":{"text":"(d)","anchor":"start","frame":"group","fontSize":12,"fontWeight":"bold","dx":-25,"dy":14,"offset":0,"baseline":"middle"},"data":{"name":"d_liver"},"mark":"line","encoding":{"x":{"field":"day","type":"quantitative","scale":{"domain":[-4,244],"nice":false,"zero":false},"axis":{"values":[0,40,80,120,160,200,240],"title":null}},"y":{"field":"umol","type":"quantitative","scale":{"domain":[-18,373],"nice":false,"zero":false},"axis":{"values":[0,200],"title":"µmol"}}}},
   {"width":170,"height":73,"data":{"name":"d_bile"},"mark":"line","encoding":{"x":{"field":"day","type":"quantitative","scale":{"domain":[-4,244],"nice":false,"zero":false},"axis":{"values":[0,40,80,120,160,200,240],"title":null}},"y":{"field":"umol","type":"quantitative","scale":{"domain":[-220,4650],"nice":false,"zero":false},"axis":{"values":[0,2000,4000],"title":null}}}},
   {"width":170,"height":73,"data":{"name":"d_ileum"},"mark":"line","encoding":{"x":{"field":"day","type":"quantitative","scale":{"domain":[-4,244],"nice":false,"zero":false},"axis":{"values":[0,40,80,120,160,200,240],"title":null}},"y":{"field":"umol","type":"quantitative","scale":{"domain":[12.75,238.5],"nice":false,"zero":false},"axis":{"values":[100,200],"title":null}}}},
   {"width":170,"height":73,"data":{"name":"d_colon"},"mark":"line","encoding":{"x":{"field":"day","type":"quantitative","scale":{"domain":[-4,244],"nice":false,"zero":false},"axis":{"values":[0,40,80,120,160,200,240],"title":null}},"y":{"field":"umol","type":"quantitative","scale":{"domain":[6.4,97.1],"nice":false,"zero":false},"axis":{"values":[25,50,75],"title":null}}}},
   {"width":170,"height":73,"layer":[
     {"data":{"name":"d_plasma"},"mark":"line","encoding":{"x":{"field":"day","type":"quantitative","scale":{"domain":[-4,244],"nice":false,"zero":false},"axis":{"values":[0,40,80,120,160,200,240],"title":null}},"y":{"field":"umol","type":"quantitative","scale":{"domain":[-1.7,34.7],"nice":false,"zero":false},"axis":{"values":[0,20],"title":null}}}},
     {"data":{"name":"ref"},"mark":{"type":"rule","strokeDash":[5.5,2.4],"strokeWidth":1.5},"encoding":{"y":{"field":"umol","type":"quantitative"},"color":{"field":"kind","type":"nominal","scale":{"domain":["PSC patient","Healthy"],"range":["#ff0000","#0000ff"]}}}}
   ]},
   {"width":10,"height":73,"view":{"stroke":null},"data":{"values":[{"t":"with RL\nactive uptake\ncomplete\nreduction"}]},"mark":{"type":"text","lineBreak":"\n","fontSize":12,"lineHeight":13.5,"align":"center","baseline":"middle","font":"DejaVu Sans","color":"#000"},"encoding":{"text":{"field":"t","type":"nominal"}}},

   {"width":170,"height":73,"title":{"text":"(e)","anchor":"start","frame":"group","fontSize":12,"fontWeight":"bold","dx":-25,"dy":14,"offset":0,"baseline":"middle"},"data":{"name":"e_liver"},"mark":"line","encoding":{"x":{"field":"day","type":"quantitative","scale":{"domain":[-12,252],"nice":false,"zero":false},"axis":{"values":[0,40,80,120,160,200,240],"title":"Day"}},"y":{"field":"umol","type":"quantitative","scale":{"domain":[-12,360],"nice":false,"zero":false},"axis":{"values":[0,200],"title":"µmol"}}}},
   {"width":170,"height":73,"data":{"name":"e_bile"},"mark":"line","encoding":{"x":{"field":"day","type":"quantitative","scale":{"domain":[-12,252],"nice":false,"zero":false},"axis":{"values":[0,40,80,120,160,200,240],"title":"Day"}},"y":{"field":"umol","type":"quantitative","scale":{"domain":[1795,4545],"nice":false,"zero":false},"axis":{"values":[2000,3000,4000],"title":null}}}},
   {"width":170,"height":73,"data":{"name":"e_ileum"},"mark":"line","encoding":{"x":{"field":"day","type":"quantitative","scale":{"domain":[-12,252],"nice":false,"zero":false},"axis":{"values":[0,40,80,120,160,200,240],"title":"Day"}},"y":{"field":"umol","type":"quantitative","scale":{"domain":[23.4,114.2],"nice":false,"zero":false},"axis":{"values":[50,100],"title":null}}}},
   {"width":170,"height":73,"data":{"name":"e_colon"},"mark":"line","encoding":{"x":{"field":"day","type":"quantitative","scale":{"domain":[-12,252],"nice":false,"zero":false},"axis":{"values":[0,40,80,120,160,200,240],"title":"Day"}},"y":{"field":"umol","type":"quantitative","scale":{"domain":[8.3,65.6],"nice":false,"zero":false},"axis":{"values":[20,40,60],"title":null}}}},
   {"width":170,"height":73,"layer":[
     {"data":{"name":"e_plasma"},"mark":"line","encoding":{"x":{"field":"day","type":"quantitative","scale":{"domain":[-12,252],"nice":false,"zero":false},"axis":{"values":[0,40,80,120,160,200,240],"title":"Day"}},"y":{"field":"umol","type":"quantitative","scale":{"domain":[-0.9,18.6],"nice":false,"zero":false},"axis":{"values":[0,10],"title":null}}}},
     {"data":{"name":"ref"},"mark":{"type":"rule","strokeDash":[5.5,2.4],"strokeWidth":1.5},"encoding":{"y":{"field":"umol","type":"quantitative"},"color":{"field":"kind","type":"nominal","scale":{"domain":["PSC patient","Healthy"],"range":["#ff0000","#0000ff"]}}}}
   ]},
   {"width":10,"height":73,"view":{"stroke":null},"data":{"values":[{"t":"with RL\nactive uptake\n50% reduction"}]},"mark":{"type":"text","lineBreak":"\n","fontSize":12,"lineHeight":13.5,"align":"center","baseline":"middle","font":"DejaVu Sans","color":"#000"},"encoding":{"text":{"field":"t","type":"nominal"}}}
]
}
